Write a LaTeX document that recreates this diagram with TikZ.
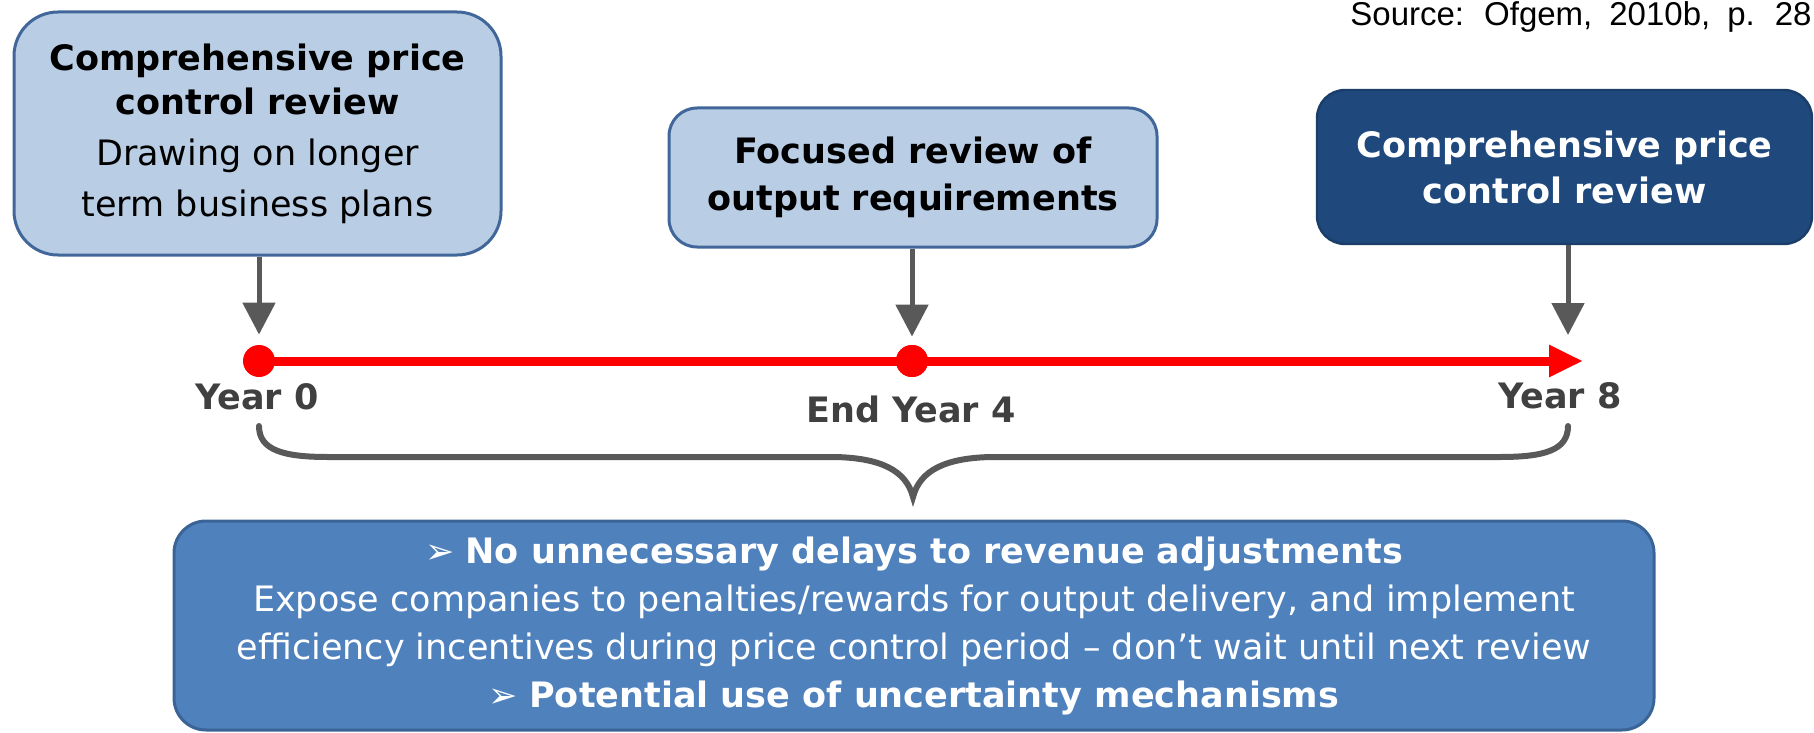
\documentclass[tikz,border=0pt]{standalone}
\usepackage{fontspec}
\setmainfont{DejaVu Sans}
\newfontfamily\srcfont{Liberation Sans}
\usetikzlibrary{arrows.meta}
\definecolor{lightbox}{HTML}{B9CDE5}
\definecolor{boxline}{HTML}{41679A}
\definecolor{darkbox}{HTML}{1F497D}
\definecolor{darkline}{HTML}{1A3D69}
\definecolor{midbox}{HTML}{4F81BD}
\definecolor{midline}{HTML}{3A6496}
\definecolor{arrgray}{HTML}{595959}
\definecolor{labgray}{HTML}{404040}
\tikzset{
  lightcard/.style={draw=boxline, fill=lightbox, line width=1.5pt, align=center, inner sep=0pt, text=black},
  darkcard/.style={draw=darkline, fill=darkbox, line width=1.2pt, align=center, inner sep=0pt, text=white},
  bigcard/.style={draw=midline, fill=midbox, line width=1.5pt, align=center, inner sep=0pt, text=white,
     rounded corners=16pt, minimum width=740pt, minimum height=104.5pt,
     font=\fontsize{17.5}{24}\selectfont},
  downarrow/.style={draw=arrgray, line width=2.5pt, -{Triangle[length=16pt,width=16pt]}},
  dotnode/.style={circle, fill=red, inner sep=0pt, minimum size=16pt},
  yearlabel/.style={text=labgray, font=\bfseries\fontsize{17.5}{20}\selectfont, anchor=base, inner sep=0pt},
  bracepath/.style={draw=arrgray, line width=3pt, line cap=round}
}
\begin{document}
\begin{tikzpicture}[x=0.5pt,y=-0.5pt]
\useasboundingbox (0,0) rectangle (1814,733);

% source
\node[anchor=base east, inner sep=0pt, font=\srcfont\fontsize{16.5}{20}\selectfont] (src) at (1812,26)
  {\spaceskip=8.5pt Source: Ofgem, 2010b, p. 28};

% top boxes
\node[lightcard, rounded corners=22pt, minimum width=243.5pt, minimum height=121.5pt,
      font=\fontsize{17.5}{25.5}\selectfont] (b1) at (257.5,133.5)
  {\textbf{Comprehensive price}\\[-3.5pt] \textbf{control review}\\ Drawing on longer\\ term business plans};
\node[lightcard, rounded corners=14pt, minimum width=244pt, minimum height=69.5pt,
      font=\bfseries\fontsize{17.5}{23.5}\selectfont] (b2) at (913,177.5)
  {Focused review of\\ output requirements};
\node[darkcard, rounded corners=14pt, minimum width=247.5pt, minimum height=77pt,
      font=\bfseries\fontsize{17.5}{23}\selectfont] (b3) at (1564.5,167)
  {Comprehensive price\\ control review};

% timeline
\node[dotnode] (d0) at (259,361) {};
\node[dotnode] (d4) at (912,361) {};
\coordinate (e8) at (1583,361);
\coordinate (y8) at (1568,345);
\draw[red, line width=4.5pt, -{Triangle[length=17pt,width=15pt]}] (d0.center) -- (e8);
\node[dotnode] at (d4) {};

% down arrows
\draw[downarrow] (b1.south -| d0) -- ([yshift=5pt]d0.north);
\draw[downarrow] (b2.south -| d4) -- ([yshift=4pt]d4.north);
\draw[downarrow] (b3.south -| y8) -- ([yshift=5pt]y8);

% labels
\node[yearlabel] (l0) at (257,409) {Year 0};
\node[yearlabel] (l4) at (911,422) {End Year 4};
\node[yearlabel] (l8) at (1560,408) {Year 8};

% brace
\coordinate (bl) at (259,426);
\coordinate (bc) at (913,497);
\coordinate (br) at (1568,426);
\draw[bracepath] (bl) .. controls (259,450) and (283,457) .. (328,457) -- (835,457)
   .. controls (880,458) and (906,470) .. (bc)
   .. controls (920,470) and (946,458) .. (991,457) -- (1500,457)
   .. controls (1545,457) and (1568,450) .. (br);

% bottom box
\node[bigcard] (bot) at (914,625.5)
  {{\normalfont ➢} \textbf{No unnecessary delays to revenue adjustments}\\
   Expose companies to penalties/rewards for output delivery, and implement\\
   efficiency incentives during price control period – don’t wait until next review\\
   {\normalfont ➢} \textbf{Potential use of uncertainty mechanisms}};
\end{tikzpicture}
\end{document}
